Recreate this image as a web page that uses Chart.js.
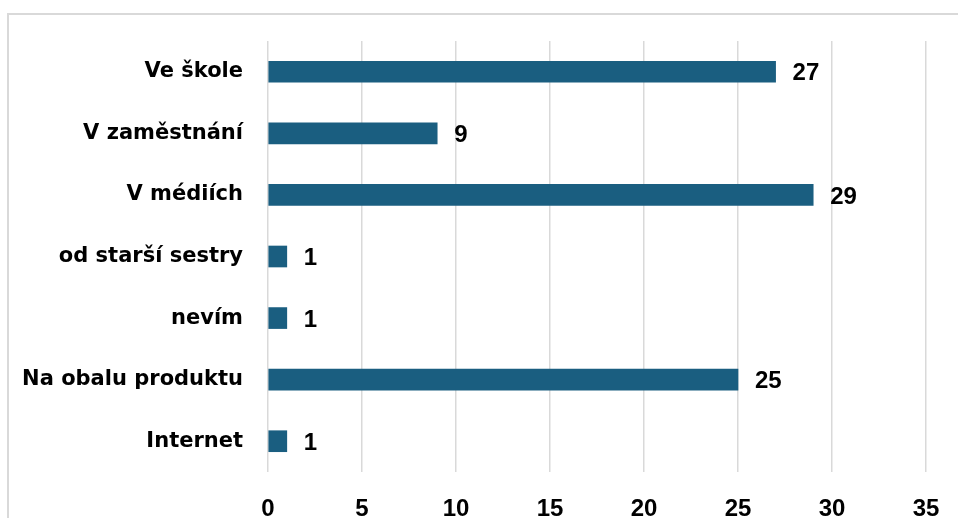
<!DOCTYPE html>
<html>
<head>
<meta charset="utf-8">
<script src="https://cdn.jsdelivr.net/npm/chart.js@4.4.1/dist/chart.umd.min.js"></script>
<style>
html,body{margin:0;padding:0;background:#fff;overflow:hidden;}
#wrap{position:absolute;left:0;top:0;width:958px;height:518px;}
#frame{position:absolute;left:7px;top:13px;width:980px;height:540px;border:2px solid #d9d9d9;box-sizing:border-box;}
canvas{position:absolute;left:0;top:0;}
</style>
</head>
<body>
<div id="wrap"><div id="frame"></div><canvas id="c" width="958" height="518"></canvas></div>
<script>
const categories = ["Ve škole", "V zaměstnání", "V médiích", "od starší sestry", "nevím", "Na obalu produktu", "Internet"];
const values = [27, 9, 29, 1, 1, 25, 1];
const xTicks = [0, 5, 10, 15, 20, 25, 30, 35];

const labelPlugin = {
  id: 'valueLabels',
  afterDatasetsDraw(chart) {
    const ctx = chart.ctx;
    const meta = chart.getDatasetMeta(0);
    ctx.save();
    ctx.font = 'bold 24px "Liberation Sans", Arial, sans-serif';
    ctx.fillStyle = '#000';
    ctx.textAlign = 'left';
    ctx.textBaseline = 'middle';
    meta.data.forEach((bar, i) => {
      ctx.fillText(String(values[i]), bar.x + 17, bar.y + 2);
    });
    ctx.restore();
  }
};

new Chart(document.getElementById('c'), {
  type: 'bar',
  data: {
    labels: categories,
    datasets: [{
      data: values,
      backgroundColor: '#1a5e80',
      borderWidth: 0,
      barThickness: 21
    }]
  },
  options: {
    indexAxis: 'y',
    responsive: false,
    animation: false,
    devicePixelRatio: 1,
    layout: { padding: { top: 41, right: 32, bottom: 0, left: 0 } },
    plugins: { legend: { display: false }, tooltip: { enabled: false } },
    scales: {
      x: {
        min: 0, max: 35,
        afterBuildTicks(scale) { scale.ticks = xTicks.map(v => ({ value: v })); },
        grid: { color: '#d9d9d9', lineWidth: 1.5, drawTicks: false },
        border: { display: false },
        ticks: {
          padding: 23,
          color: '#000',
          font: { family: '"Liberation Sans", Arial, sans-serif', size: 24, weight: 'bold' }
        },
        afterFit(scale) { scale.height = 46; scale.paddingRight = 0; scale.paddingLeft = 0; }
      },
      y: {
        grid: { display: false, drawTicks: false },
        border: { display: false },
        ticks: {
          padding: 25,
          color: '#000',
          font: { family: '"DejaVu Sans", sans-serif', size: 21, weight: 'bold' }
        },
        afterFit(scale) { scale.width = 268; scale.paddingTop = 0; scale.paddingBottom = 0; }
      }
    }
  },
  plugins: [labelPlugin]
});
</script>
</body>
</html>
